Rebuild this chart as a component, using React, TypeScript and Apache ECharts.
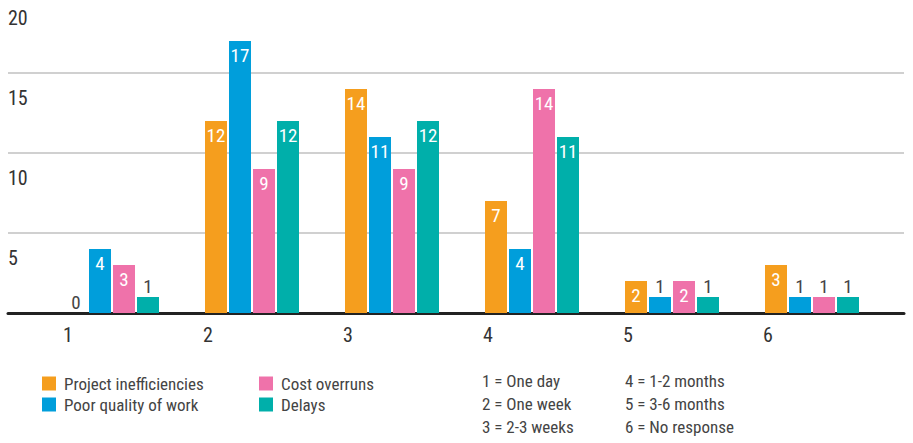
import React, { useEffect, useRef } from "react";
import * as echarts from "echarts";

const categories = ["1", "2", "3", "4", "5", "6"];
const seriesNames = ["Project inefficiencies", "Poor quality of work", "Cost overruns", "Delays"];
const projectInefficiencies = [0, 12, 14, 7, 2, 3];
const poorQuality = [4, 17, 11, 4, 1, 1];
const costOverruns = [3, 9, 9, 14, 2, 1];
const delays = [1, 12, 12, 11, 1, 1];
const colors = ["#F59E1E", "#009EDB", "#EF72AA", "#00AFAA"];
const yTicks = [0, 5, 10, 15, 20];
const keyCol1 = ["1 = One day", "2 = One week", "3 = 2-3 weeks"];
const keyCol2 = ["4 = 1-2 months", "5 = 3-6 months", "6 = No response"];

const FONT = '"Liberation Sans Narrow", "Roboto Condensed", Roboto, sans-serif';

export default function App() {
  const ref = useRef<HTMLDivElement>(null);
  useEffect(() => {
    if (!ref.current) return;
    const chart = echarts.init(ref.current, undefined, { renderer: "svg" });
    const allValues = [projectInefficiencies, poorQuality, costOverruns, delays];
    const series = allValues.map((vals, i) => ({
      name: seriesNames[i],
      type: "bar",
      xAxisIndex: 0,
      yAxisIndex: 0,
      barWidth: 22,
      barGap: "9.1%",
      itemStyle: { color: colors[i] },
      data: vals.map((v) => ({
        value: v,
        label:
          v <= 1
            ? { show: true, position: "top", color: "#444", distance: 1 }
            : { show: true, position: "insideTop", color: "#fff", distance: 5 },
      })),
      label: { fontFamily: FONT, fontSize: 19 },
    }));
    const keyText = (arr: string[], x: number) =>
      arr.map((t, i) => ({
        type: "text",
        left: x,
        top: 372 + i * 23,
        style: { text: t, fontFamily: FONT, fontSize: 17, fill: "#444" },
      }));
    const legendBase = {
      orient: "vertical",
      top: 375,
      icon: "rect",
      itemWidth: 14,
      itemHeight: 14,
      itemGap: 4,
      padding: 0,
      textStyle: { fontSize: 17, color: "#444", fontFamily: FONT, padding: [0, 0, 0, 3] },
    };
    chart.setOption({
      animation: false,
      textStyle: { fontFamily: FONT },
      grid: [
        { left: 42, right: 31, top: -7, bottom: 130, outerBoundsMode: "none" },
        { left: 8, right: 9, top: -7, bottom: 130, outerBoundsMode: "none" },
        { left: 8, right: 9, top: 18, bottom: 105, outerBoundsMode: "none" },
      ],
      xAxis: [
        {
          type: "category",
          gridIndex: 0,
          data: categories,
          axisLine: { show: false },
          axisTick: { show: false },
          axisLabel: {
            interval: 0,
            margin: 12,
            fontSize: 20,
            color: "#333",
            fontFamily: FONT,
            padding: [0, 88, 0, 0],
          },
        },
        {
          type: "value",
          gridIndex: 1,
          min: 0,
          max: 1,
          axisLine: { show: true, onZero: false, lineStyle: { color: "#222", width: 3 } },
          axisTick: { show: false },
          axisLabel: { show: false },
          splitLine: { show: false },
        },
        {
          type: "value",
          gridIndex: 2,
          min: 0,
          max: 1,
          show: false,
        },
      ],
      yAxis: [
        {
          type: "value",
          gridIndex: 0,
          min: yTicks[0],
          max: yTicks[yTicks.length - 1],
          interval: 5,
          show: false,
          splitLine: { show: false },
        },
        {
          type: "value",
          gridIndex: 1,
          min: yTicks[0],
          max: yTicks[yTicks.length - 1],
          interval: 5,
          axisLine: { show: false },
          axisTick: { show: false },
          axisLabel: { show: false },
          splitLine: { show: true, lineStyle: { color: "#d0d0d0", width: 2 } },
        },
        {
          type: "value",
          gridIndex: 2,
          min: yTicks[0],
          max: yTicks[yTicks.length - 1],
          interval: 5,
          axisLine: { show: false },
          axisTick: { show: false },
          splitLine: { show: false },
          axisLabel: {
            inside: true,
            margin: 0,
            fontSize: 20,
            color: "#333",
            fontFamily: FONT,
            formatter: (v: number) => (v === 0 ? "" : String(v)),
          },
        },
      ],
      legend: [
        { ...legendBase, data: seriesNames.slice(0, 2), left: 42 },
        { ...legendBase, data: seriesNames.slice(2, 4), left: 259 },
      ],
      graphic: [...keyText(keyCol1, 482), ...keyText(keyCol2, 625)],
      series,
    });
    return () => chart.dispose();
  }, []);
  return (
    <div
      ref={ref}
      style={{ position: "absolute", left: 0, top: 0, width: 913, height: 443, background: "#fff" }}
    />
  );
}
